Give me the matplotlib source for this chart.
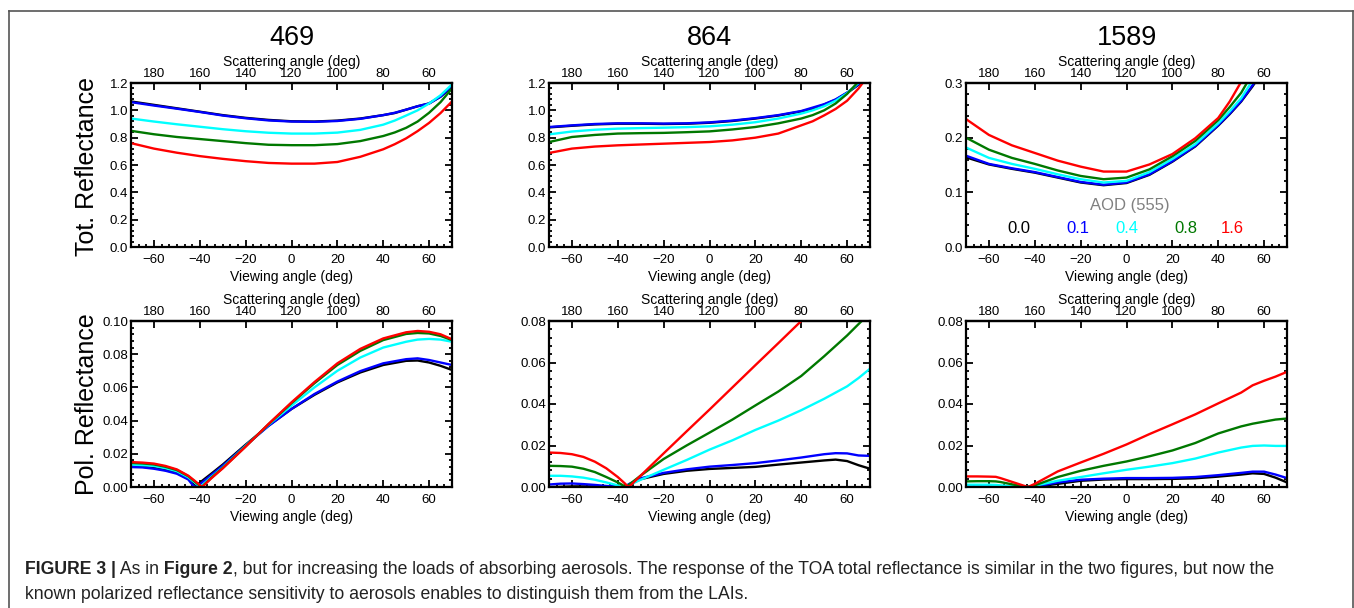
import numpy as np
import matplotlib.pyplot as plt
from matplotlib.ticker import AutoMinorLocator, FormatStrFormatter, NullLocator
from matplotlib.lines import Line2D

plt.rcParams['font.family'] = ['Liberation Sans', 'DejaVu Sans']

# AOD(555) values and their colours
aod_labels = ['0.0', '0.1', '0.4', '0.8', '1.6']
colors = ['black', 'blue', 'cyan', '#007800', 'red']

# total reflectance, viewing angle grid
x_tot = [-70, -60, -50, -40, -30, -20, -10, 0, 10, 20, 30, 40, 45, 50, 55, 60, 65, 70]

tot_469 = [
    [1.065, 1.04, 1.015, 0.99, 0.965, 0.945, 0.93, 0.92, 0.918, 0.925, 0.94, 0.965, 0.98, 1.005, 1.03, 1.05, 1.1, 1.17],
    [1.06, 1.035, 1.012, 0.988, 0.962, 0.942, 0.926, 0.918, 0.916, 0.922, 0.938, 0.965, 0.982, 1.005, 1.03, 1.05, 1.1, 1.18],
    [0.94, 0.918, 0.898, 0.88, 0.862, 0.847, 0.836, 0.83, 0.83, 0.837, 0.857, 0.895, 0.925, 0.962, 1.0, 1.05, 1.11, 1.19],
    [0.85, 0.825, 0.805, 0.79, 0.775, 0.76, 0.748, 0.745, 0.745, 0.753, 0.775, 0.812, 0.838, 0.872, 0.918, 0.982, 1.06, 1.16],
    [0.76, 0.72, 0.69, 0.665, 0.645, 0.628, 0.615, 0.61, 0.61, 0.622, 0.66, 0.715, 0.752, 0.795, 0.848, 0.908, 0.98, 1.065],
]

tot_864 = [
    [0.875, 0.887, 0.897, 0.902, 0.902, 0.9, 0.902, 0.909, 0.922, 0.94, 0.962, 0.992, 1.012, 1.042, 1.077, 1.127, 1.187, 1.267],
    [0.878, 0.89, 0.9, 0.905, 0.905, 0.903, 0.905, 0.912, 0.925, 0.943, 0.965, 0.995, 1.02, 1.045, 1.08, 1.13, 1.19, 1.27],
    [0.824, 0.845, 0.858, 0.866, 0.87, 0.873, 0.877, 0.883, 0.895, 0.913, 0.94, 0.976, 1.0, 1.03, 1.07, 1.125, 1.2, 1.28],
    [0.768, 0.805, 0.82, 0.83, 0.833, 0.835, 0.84, 0.846, 0.86, 0.878, 0.905, 0.94, 0.965, 1.0, 1.05, 1.12, 1.21, 1.3],
    [0.688, 0.72, 0.735, 0.744, 0.75, 0.756, 0.762, 0.768, 0.78, 0.8, 0.83, 0.89, 0.92, 0.963, 1.01, 1.07, 1.16, 1.27],
]

tot_1589 = [
    [0.164, 0.151, 0.143, 0.136, 0.127, 0.118, 0.113, 0.117, 0.132, 0.156, 0.184, 0.222, 0.243, 0.266, 0.294, 0.325, 0.36, 0.4],
    [0.167, 0.152, 0.144, 0.137, 0.128, 0.119, 0.114, 0.118, 0.133, 0.157, 0.185, 0.223, 0.244, 0.267, 0.296, 0.327, 0.36, 0.4],
    [0.182, 0.163, 0.152, 0.143, 0.133, 0.124, 0.118, 0.121, 0.137, 0.161, 0.188, 0.226, 0.248, 0.272, 0.305, 0.335, 0.37, 0.41],
    [0.2, 0.178, 0.163, 0.152, 0.14, 0.13, 0.124, 0.127, 0.142, 0.166, 0.194, 0.232, 0.256, 0.282, 0.318, 0.35, 0.39, 0.43],
    [0.234, 0.205, 0.186, 0.172, 0.158, 0.147, 0.138, 0.138, 0.151, 0.17, 0.199, 0.236, 0.266, 0.302, 0.345, 0.39, 0.43, 0.47],
]

# polarized reflectance
x_pol_469 = [-70, -65, -60, -55, -50, -45, -43, -42, -40, -39, -35, -30, -20, -10, 0, 10, 20, 30, 40, 50, 55, 60, 65, 70]
pol_469 = [
    [0.0125, 0.0122, 0.0115, 0.0102, 0.0085, 0.005, 0.002, 0.0005, 0.0025, 0.0037, 0.008, 0.0135, 0.0255, 0.037, 0.047, 0.0555, 0.063, 0.069, 0.0735, 0.076, 0.0762, 0.075, 0.073, 0.0705],
    [0.012, 0.0118, 0.011, 0.0098, 0.008, 0.0045, 0.001, 0.0, 0.0015, 0.0027, 0.0072, 0.0128, 0.025, 0.0368, 0.047, 0.056, 0.0635, 0.0698, 0.0745, 0.077, 0.0775, 0.0765, 0.075, 0.0735],
    [0.0135, 0.0132, 0.0127, 0.0114, 0.0095, 0.0058, 0.0035, 0.0025, 0.0003, 0.001, 0.006, 0.0118, 0.0248, 0.0375, 0.049, 0.06, 0.07, 0.078, 0.084, 0.0875, 0.0888, 0.0892, 0.0888, 0.0875],
    [0.0145, 0.0142, 0.0136, 0.0122, 0.0102, 0.0065, 0.0042, 0.003, 0.0008, 0.0002, 0.0055, 0.0115, 0.0245, 0.0378, 0.0505, 0.0625, 0.0735, 0.082, 0.0885, 0.0922, 0.0928, 0.0925, 0.091, 0.0885],
    [0.015, 0.0147, 0.0141, 0.0127, 0.0106, 0.0068, 0.0046, 0.0035, 0.0012, 0.0, 0.0052, 0.0112, 0.0243, 0.038, 0.051, 0.0632, 0.0745, 0.0832, 0.0895, 0.0932, 0.094, 0.0935, 0.092, 0.089],
]

x_pol_864 = [-70, -65, -60, -55, -50, -45, -40, -38, -37, -36, -35, -30, -20, -10, 0, 10, 20, 30, 40, 50, 55, 60, 65, 70]
pol_864 = [
    [0.0, 0.0001, 0.0003, 0.0003, 0.0003, 0.0003, 0.0002, 0.0, 0.0001, 0.0005, 0.0012, 0.0038, 0.0063, 0.0078, 0.0087, 0.0092, 0.0097, 0.0108, 0.0118, 0.0128, 0.0132, 0.0125, 0.0105, 0.0088],
    [0.0012, 0.0016, 0.0017, 0.0014, 0.001, 0.0005, 0.0002, 0.0, 0.0001, 0.0008, 0.0015, 0.0042, 0.0068, 0.0085, 0.0098, 0.0106, 0.0115, 0.0128, 0.0142, 0.0158, 0.0163, 0.0162, 0.0152, 0.015],
    [0.0054, 0.0054, 0.0051, 0.0045, 0.0035, 0.0022, 0.0008, 0.0, 0.0002, 0.0006, 0.001, 0.0035, 0.0083, 0.013, 0.018, 0.0225, 0.0275, 0.032, 0.037, 0.0425, 0.0455, 0.0485, 0.0525, 0.057],
    [0.0102, 0.0101, 0.0098, 0.0088, 0.0072, 0.0048, 0.0022, 0.001, 0.0003, 0.0005, 0.0012, 0.0055, 0.0135, 0.02, 0.0262, 0.0325, 0.0393, 0.046, 0.0535, 0.063, 0.068, 0.073, 0.0785, 0.084],
    [0.0166, 0.0164, 0.0158, 0.0145, 0.0122, 0.009, 0.0048, 0.0028, 0.0018, 0.0007, 0.0002, 0.0055, 0.0162, 0.0268, 0.0373, 0.048, 0.0587, 0.0693, 0.08, None, None, None, None, None],
]

x_pol_1589 = [-70, -65, -60, -57, -55, -50, -45, -43, -40, -35, -30, -20, -10, 0, 10, 20, 30, 40, 50, 55, 60, 65, 70]
pol_1589 = [
    [0.0, 0.0, 0.0, 0.0, 0.0, 0.0, 0.0, 0.0, 0.0002, 0.0008, 0.0015, 0.003, 0.0036, 0.0038, 0.0038, 0.0039, 0.0042, 0.005, 0.006, 0.0066, 0.0063, 0.0045, 0.0022],
    [0.0003, 0.0003, 0.0003, 0.0003, 0.0003, 0.0002, 0.0001, 0.0, 0.0004, 0.0012, 0.0022, 0.0035, 0.004, 0.0043, 0.0043, 0.0044, 0.0048, 0.0057, 0.0068, 0.0074, 0.0074, 0.006, 0.0043],
    [0.0011, 0.0011, 0.0011, 0.001, 0.0008, 0.0004, 0.0001, 0.0, 0.0006, 0.0018, 0.003, 0.0048, 0.0066, 0.0083, 0.0098, 0.0115, 0.0137, 0.0166, 0.019, 0.0198, 0.02, 0.0198, 0.0198],
    [0.0027, 0.0028, 0.0028, 0.0027, 0.0024, 0.0013, 0.0003, 0.0, 0.0008, 0.0028, 0.0048, 0.0078, 0.0102, 0.0123, 0.0148, 0.0176, 0.0212, 0.0258, 0.0292, 0.0305, 0.0315, 0.0325, 0.033],
    [0.0051, 0.0051, 0.005, 0.0049, 0.0043, 0.0025, 0.0007, 0.0, 0.0015, 0.0045, 0.0075, 0.0118, 0.016, 0.0205, 0.0255, 0.0302, 0.035, 0.0403, 0.0455, 0.049, 0.0512, 0.0532, 0.0555],
]

wavelengths = ['469', '864', '1589']
scat_ticks = [180, 160, 140, 120, 100, 80, 60]
view_ticks = [-60, -40, -20, 0, 20, 40, 60]


def to_scat(v):
    return 120 - np.asarray(v)


def to_view(s):
    return 120 - np.asarray(s)


def draw_panel(ax, x, curves, ymax, ystep, fmt):
    for vals, c in zip(curves, colors):
        y = np.array([np.nan if v is None else v for v in vals], dtype=float)
        ax.plot(x, y, color=c, lw=1.7)
    ax.set_xlim(-70, 70)
    ax.set_ylim(0, ymax)
    ax.set_xticks(view_ticks)
    ax.xaxis.set_minor_locator(AutoMinorLocator(6))
    ax.set_yticks(np.arange(0, ymax + ystep / 2, ystep))
    ax.yaxis.set_major_formatter(FormatStrFormatter(fmt))
    ax.yaxis.set_minor_locator(AutoMinorLocator(5))
    ax.tick_params(which='both', direction='in', top=False, right=True, width=1.3)
    ax.tick_params(axis='x', which='major', length=5, labelsize=9.5, pad=5)
    ax.tick_params(axis='y', which='major', length=5, labelsize=9.5, pad=2)
    ax.tick_params(which='minor', length=2.5)
    for s in ax.spines.values():
        s.set_linewidth(1.6)
    sec = ax.secondary_xaxis('top', functions=(to_scat, to_view))
    sec.set_xticks(scat_ticks)
    sec.xaxis.set_minor_locator(NullLocator())
    sec.tick_params(direction='in', length=5, width=1.3, labelsize=9.5, pad=2)
    sec.spines['top'].set_linewidth(1.6)
    ax.text(0.5, 1.128, 'Scattering angle (deg)', transform=ax.transAxes,
            ha='center', va='center', fontsize=10)
    ax.text(0.5, -0.183, 'Viewing angle (deg)', transform=ax.transAxes,
            ha='center', va='center', fontsize=10)


W, H = 1354, 608
fig = plt.figure(figsize=(W / 100, H / 100), dpi=100)

lefts = [131, 549, 966]
aw = 321
top_rows = [(83, 247), (321, 487)]

tot_data = [tot_469, tot_864, tot_1589]
tot_lim = [(1.2, 0.2, '%.1f'), (1.2, 0.2, '%.1f'), (0.3, 0.1, '%.1f')]
pol_x = [x_pol_469, x_pol_864, x_pol_1589]
pol_data = [pol_469, pol_864, pol_1589]
pol_lim = [(0.10, 0.02, '%.2f'), (0.08, 0.02, '%.2f'), (0.08, 0.02, '%.2f')]

axes = []
for row, (t, b) in enumerate(top_rows):
    for col, l in enumerate(lefts):
        ax = fig.add_axes([l / W, 1 - b / H, aw / W, (b - t) / H])
        if row == 0:
            ymax, ystep, fmt = tot_lim[col]
            draw_panel(ax, x_tot, tot_data[col], ymax, ystep, fmt)
            ax.text(0.5, 1.274, wavelengths[col], transform=ax.transAxes,
                    ha='center', va='center', fontsize=19.5)
        else:
            ymax, ystep, fmt = pol_lim[col]
            draw_panel(ax, pol_x[col], pol_data[col], ymax, ystep, fmt)
        axes.append(ax)

# AOD legend inside the 1589 total panel
ax3 = axes[2]
ax3.text(1.5, 0.0755, 'AOD (555)', color='#808080', ha='center', va='center', fontsize=12)
for lab, c, xp in zip(aod_labels, colors, [-47, -21, 0, 26, 46]):
    ax3.text(xp, 0.033, lab, color=c, ha='center', va='center', fontsize=12)

fig.text(87 / W, 1 - 167 / H, 'Tot. Reflectance', rotation=90, ha='center', va='center', fontsize=18)
fig.text(87 / W, 1 - 404 / H, 'Pol. Reflectance', rotation=90, ha='center', va='center', fontsize=18)

# frame around the figure
fx0, fx1, fy0 = 8.5 / W, 1352.5 / W, 1 - 11 / H
for xs, ys in [([fx0, fx1], [fy0, fy0]), ([fx0, fx0], [fy0, 0]), ([fx1, fx1], [fy0, 0])]:
    fig.add_artist(Line2D(xs, ys, transform=fig.transFigure, color='#555555', lw=1.2))

# caption
renderer = fig.canvas.get_renderer()


def caption_line(parts, x, y, size=12.7):
    for s, w in parts:
        t = fig.text(x, y, s, fontsize=size, fontweight=w, ha='left', va='baseline', color='#222222')
        x += t.get_window_extent(renderer).width / W


caption_line([('FIGURE 3 |', 'bold'), (' As in', 'normal'), (' Figure 2', 'bold'),
              (', but for increasing the loads of absorbing aerosols. The response of the TOA total '
               'reflectance is similar in the two figures, but now the', 'normal')],
             25 / W, 1 - 574 / H)
caption_line([('known polarized reflectance sensitivity to aerosols enables to distinguish them from the LAIs.',
               'normal')], 25 / W, 1 - 599 / H)

fig.savefig('out.png', dpi=100)
